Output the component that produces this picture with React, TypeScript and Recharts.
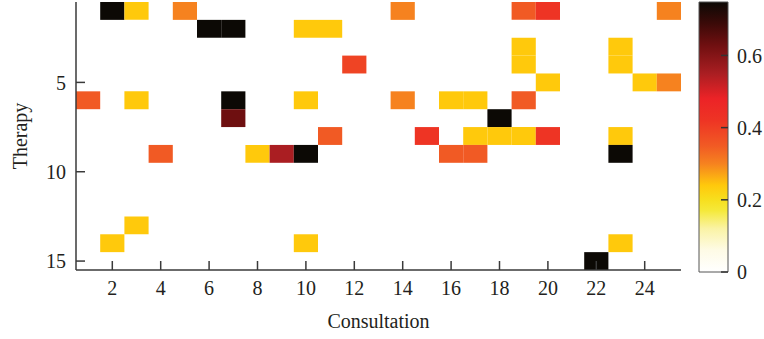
import React from 'react';
import { ComposedChart, Scatter, XAxis, YAxis, ReferenceArea, Label } from 'recharts';

// Heatmap cells: consultation (x), therapy (y), value
const consultation = [2, 3, 5, 14, 19, 20, 25, 6, 7, 10, 11, 19, 23, 12, 19, 23, 20, 24, 25, 1, 3, 7, 10, 14, 16, 17, 19, 7, 18, 11, 15, 17, 18, 19, 20, 23, 4, 8, 9, 10, 16, 17, 23, 3, 2, 10, 23, 22];
const therapy = [1, 1, 1, 1, 1, 1, 1, 2, 2, 2, 2, 3, 3, 4, 4, 4, 5, 5, 5, 6, 6, 6, 6, 6, 6, 6, 6, 7, 7, 8, 8, 8, 8, 8, 8, 8, 9, 9, 9, 9, 9, 9, 9, 13, 14, 14, 14, 15];
const cellValue = [0.75, 0.24, 0.3, 0.3, 0.35, 0.42, 0.3, 0.75, 0.75, 0.24, 0.24, 0.24, 0.24, 0.39, 0.24, 0.24, 0.24, 0.24, 0.3, 0.35, 0.24, 0.75, 0.24, 0.3, 0.24, 0.24, 0.35, 0.63, 0.75, 0.35, 0.42, 0.24, 0.24, 0.24, 0.42, 0.24, 0.35, 0.24, 0.55, 0.75, 0.35, 0.35, 0.75, 0.24, 0.24, 0.24, 0.24, 0.75];

const xTicks = [2, 4, 6, 8, 10, 12, 14, 16, 18, 20, 22, 24];
const yTicks = [5, 10, 15];
const barTicks = [0, 0.2, 0.4, 0.6];
const barMax = 0.748;

const stopValues = [0, 0.06, 0.12, 0.17, 0.2, 0.24, 0.3, 0.35, 0.42, 0.48, 0.55, 0.63, 0.69, 0.748];
const stopColors = ['#ffffff', '#fefbe6', '#faf3a5', '#f5e93a', '#f7df1e', '#ffc90c', '#f6821f', '#f15a24', '#ee3424', '#ec2327', '#aa1e22', '#6e0f10', '#3a0a08', '#0c0905'];

function hexToRgb(h: string) {
  const n = parseInt(h.slice(1), 16);
  return [(n >> 16) & 255, (n >> 8) & 255, n & 255];
}
function colorFor(v: number) {
  for (let i = 0; i < stopValues.length - 1; i++) {
    if (v <= stopValues[i + 1]) {
      const t = (v - stopValues[i]) / (stopValues[i + 1] - stopValues[i]);
      const a = hexToRgb(stopColors[i]);
      const b = hexToRgb(stopColors[i + 1]);
      const c = a.map((x, k) => Math.round(x + (b[k] - x) * t));
      return `rgb(${c[0]},${c[1]},${c[2]})`;
    }
  }
  return stopColors[stopColors.length - 1];
}

const cells = consultation.map((c, i) => ({ x: c, y: therapy[i], v: cellValue[i] }));

const font = 'Liberation Serif, Times New Roman, serif';
const textColor = '#231f20';
const axisColor = '#3a3a3a';
const tickStyle = { fontFamily: font, fontSize: 20, fill: textColor };
const emptyShape = () => <g />;

export default function App() {
  return (
    <div style={{ position: 'absolute', left: 0, top: 0, width: 764, height: 339, background: '#fff' }}>
      <div style={{ position: 'absolute', left: 0, top: 0 }}>
        <ComposedChart width={764} height={339} margin={{ top: 2, right: 83, bottom: 39, left: 16 }} data={cells}>
          {cells.map((d, i) => (
            <ReferenceArea
              key={i}
              x1={d.x - 0.5}
              x2={d.x + 0.5}
              y1={d.y - 0.5}
              y2={d.y + 0.5}
              fill={colorFor(d.v)}
              fillOpacity={1}
              stroke="none"
            />
          ))}
          <XAxis
            dataKey="x"
            type="number"
            domain={[0.5, 25.5]}
            ticks={xTicks}
            interval={0}
            height={30}
            tickSize={-9}
            tickMargin={20}
            tick={tickStyle}
            axisLine={{ stroke: axisColor, strokeWidth: 1.5 }}
            tickLine={{ stroke: axisColor, strokeWidth: 1.5 }}
            allowDataOverflow
          >
            <Label value="Consultation" position="center" dy={36} style={{ fontFamily: font, fontSize: 20, fill: textColor }} />
          </XAxis>
          <XAxis
            xAxisId="top"
            orientation="top"
            dataKey="x"
            type="number"
            domain={[0.5, 25.5]}
            ticks={xTicks}
            interval={0}
            height={0}
            tickSize={-9}
            tickFormatter={() => ''}
            axisLine={{ stroke: axisColor, strokeWidth: 1.5 }}
            tickLine={{ stroke: axisColor, strokeWidth: 1.5 }}
            allowDataOverflow
          />
          <YAxis
            dataKey="y"
            type="number"
            domain={[0.5, 15.5]}
            reversed
            ticks={yTicks}
            interval={0}
            width={60}
            tickSize={-9}
            tickMargin={19}
            tick={tickStyle}
            axisLine={{ stroke: axisColor, strokeWidth: 1.5 }}
            tickLine={{ stroke: axisColor, strokeWidth: 1.5 }}
            allowDataOverflow
          >
            <Label value="Therapy" position="center" angle={-90} dx={-26} style={{ fontFamily: font, fontSize: 20, fill: textColor }} />
          </YAxis>
          <YAxis
            yAxisId="right"
            orientation="right"
            dataKey="y"
            type="number"
            domain={[0.5, 15.5]}
            reversed
            ticks={yTicks}
            interval={0}
            width={0}
            tickSize={-9}
            tickFormatter={() => ''}
            axisLine={{ stroke: axisColor, strokeWidth: 1.5 }}
            tickLine={{ stroke: axisColor, strokeWidth: 1.5 }}
            allowDataOverflow
          />
          <Scatter data={cells} dataKey="y" shape={emptyShape} isAnimationActive={false} />
          <Scatter data={cells} dataKey="y" xAxisId="top" yAxisId="right" shape={emptyShape} isAnimationActive={false} />
        </ComposedChart>
      </div>
      <div style={{ position: 'absolute', left: 0, top: 0 }}>
        <ComposedChart width={764} height={339} margin={{ top: 2, right: 6, bottom: 67, left: 699 }} data={[{ x: 0.5, y: 0 }, { x: 0.5, y: barMax }]}>
          <defs>
            <linearGradient id="cmap" x1="0" y1="1" x2="0" y2="0">
              {stopValues.map((s, i) => (
                <stop key={i} offset={s / barMax} stopColor={stopColors[i]} />
              ))}
            </linearGradient>
          </defs>
          <XAxis dataKey="x" type="number" domain={[0, 1]} hide height={0} />
          <ReferenceArea x1={0} x2={1} y1={0} y2={barMax} fill="url(#cmap)" fillOpacity={1} stroke="#555" strokeWidth={1} />
          <YAxis
            yAxisId="l"
            orientation="left"
            dataKey="y"
            type="number"
            domain={[0, barMax]}
            ticks={barTicks}
            interval={0}
            width={0}
            tickSize={-7}
            tickFormatter={() => ''}
            axisLine={false}
            tickLine={{ stroke: '#333', strokeWidth: 1.5 }}
          />
          <YAxis
            orientation="right"
            dataKey="y"
            type="number"
            domain={[0, barMax]}
            ticks={barTicks}
            interval={0}
            width={30}
            tickSize={-7}
            tickMargin={16}
            tick={tickStyle}
            tickFormatter={(v: number) => (v === 0 ? '0' : v.toFixed(1))}
            axisLine={false}
            tickLine={{ stroke: '#333', strokeWidth: 1.5 }}
          />
          <Scatter dataKey="y" shape={emptyShape} isAnimationActive={false} />
          <Scatter dataKey="y" yAxisId="l" shape={emptyShape} isAnimationActive={false} />
        </ComposedChart>
      </div>
    </div>
  );
}
